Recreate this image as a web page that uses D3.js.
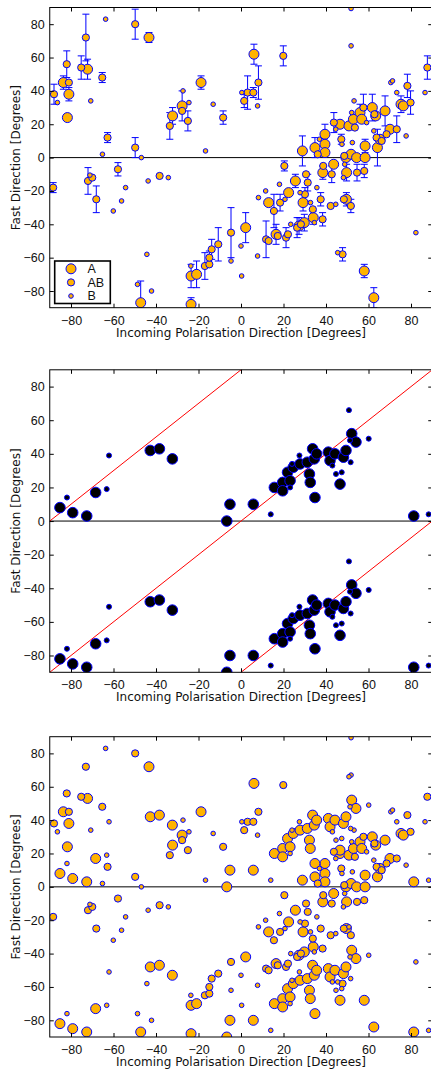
<!DOCTYPE html>
<html><head><meta charset="utf-8">
<script src="https://cdn.jsdelivr.net/npm/d3@7"></script>
<style>
html,body{margin:0;padding:0;background:#fff;}
svg{display:block;}
</style></head>
<body>
<svg id="chart" width="431" height="1070"></svg>
<script>
// ---------- DATA ----------
const xTicks = [-80,-60,-40,-20,0,20,40,60,80];
const yTicks = [-80,-60,-40,-20,0,20,40,60,80];
const axisDomain = [-90, 90];
const classNames = ["A","AB","B"];
const xTitle = "Incoming Polarisation Direction [Degrees]";
const yTitle = "Fast Direction [Degrees]";

// Panel 1: [incoming, fast, error]
const p1A = [[-83.6,45,4],[-81,38,4],[-81.7,24,0],[-72.2,53,6],[-43.3,72,3],[-47.2,-87,13],[-32.2,25,5],[-27.7,31,9],[-18.8,45,4],[6.1,62,6],
 [-23.5,-71,7],[-20.9,-70,8],[-23.5,-88,4],[2.2,-42,9],[13,-27,0],[16.5,-46,6],[22.4,-21,0],[25.6,-14,4],[27.3,-41,5],[29.8,-39,5],[29.2,-27,5],[34,-36,4],[38.5,-9,4],[43.6,-4,0],[49.7,-9,5],[49.6,-25,4],[58,-68,4],[62.5,-84,6],
 [28.9,4,9],[34.8,6,6],[39.5,14,6],[39.5,8,0],[39.5,3,0],[46.6,20,0],[49.4,0,0],[51.8,2,0],[50.8,19,0],[52.9,23,0],[56,27,5],[56.8,23,0],[54.4,0,0],[58.4,7,4],[58.4,0,0],[61.8,30,8],[63.4,25,0],[64.2,6,11],[65.4,11,0],[67.8,28,9],[70.1,17,0],[75.3,32,5],[76.4,31,0]];
const p1AB = [[-88,38,6],[-82,56,8],[-81,45,0],[-75.2,54,7],[-73,72,14],[-65.3,48,3],[-62.8,12,3],[-49.8,80,9],[-49.8,6,6],[-33.5,19,8],[-27.7,28,0],[-25,22,6],[-8.4,24,4],[1.5,34,4],[3.1,39,10],[5.8,39,3],[8.2,45,10],[19.9,61,6],[87.7,54,7],[78.3,43,7],[79.8,33,7],[73.3,17,8],
 [-88.4,-18,3],[-72,-14,8],[-70,-12,0],[-68.1,-25,8],[-57.9,-7,4],[-38.3,-11,0],[-17,-65,8],[-14.9,-64,0],[-14.9,-60,4],[-13.8,-55,6],[-10.7,-52,10],[-4.7,-45,15],[11.8,-49,11],[13,-50,0],[15.5,-32,10],[17.3,-47,0],[18.4,-27,5],[20.4,-5,3],[21.2,-48,6],[22.1,-46,0],[26.4,-42,6],[28.2,-40,0],[30.6,-10,0],[31.4,-15,5],[30.1,-22,4],[33.8,-31,0],[37.5,-25,4],[38.4,-37,4],[38.7,-5,0],[42.7,-10,5],[42.2,-29,0],[48.4,-25,0],[51.7,-29,4],[54.6,-9,5],[58,-8,4],[47.8,-58,4],
 [36.1,2,0],[43.7,21,6],[47.2,11,3],[53.6,18,0],[57.6,30,8],[62.8,26,0],[63.8,12,0],[66.2,10,0],[68.5,14,0],[48.6,1,0]];
const p1B = [[-86.4,33],[-70.7,34],[-63.7,83],[-65.2,2],[-46.9,0],[-27.3,40],[-24.5,33],[-13.1,32],[-16.7,4],[0.4,39],[7.8,31],[51.8,89.4],[51.8,67],[53.2,34],[86.6,39],[70.5,45],[71.3,46],[73.3,39],[77.7,13],
 [-71.1,-10.5],[-54.3,-18],[-56.2,-26],[-60.1,-32],[-43.7,-14],[-34.2,-12],[-44.3,-58],[-48.7,-76],[-42.1,-80],[-23.6,-65],[-4.7,-62],[0,-53],[0.3,-71],[7.8,-59],[8.2,-24],[11.6,-20],[18.1,-16],[20.7,-25],[23.4,-40],[27.8,-21],[32.7,-27],[34.5,-39],[35.7,-18],[44.6,-28],[45.5,-57],[48.2,-12],[48.8,-4],[82.3,-45],
 [36.9,11],[44.6,17],[47.5,8],[52.4,9],[52.1,27],[59.1,21],[62.5,16]];

// Panel 2: [incoming, fast] (fast in 0..90, also shown 90 degrees lower)
const p2A = [[-85.2,8],[-79.2,5],[-72.6,3],[-68.4,17],[-42.7,42],[-38.4,43],[-32.3,37],[-6.7,0],[-5.2,10],[5.8,10],[15.7,20],[19.6,23],[19.6,18],[21.9,29],[23.1,24],[24.6,32],[27.8,34],[31.2,35],[32.2,28],[32.6,23],[33.7,43],[34.8,14],[34.5,37],[35.6,40],[41.1,41],[41.9,36],[44.2,40],[46.6,22],[48.2,38],[49.4,42],[52.1,52],[54.1,47],[81.3,3]];
const p2B = [[-81.9,14],[-63.2,19],[-62.1,39],[14,4],[23.1,20],[24,34],[27.5,39],[43,33],[44.7,28],[47.4,29],[50.8,66],[51.6,35],[51.3,48],[60.1,49],[88.3,4]];
const p2Shift = 90;
const redLineOffsets = [90, 0, -90]; // fast = incoming + offset

// ---------- STYLE ----------
const ORANGE = "#FFB300", BLUE = "#0000FF", RED = "#FF0000";
const R = {A:5.0, AB:3.6, B:2.3};
const R2 = {A:5.3, B:2.5};
const panels = [{top:7.5,bottom:307.7},{top:369.8,bottom:672.3},{top:736.7,bottom:1037}];
const xRange = [49.75, 432.25];
const tickFont = "'Liberation Sans', Arial, Helvetica, sans-serif";
const titleFont = "'DejaVu Sans', sans-serif";
const INK = "#111";

const svg = d3.select("#chart");

function makePanel(i){
  const p = panels[i];
  const x = d3.scaleLinear().domain(axisDomain).range(xRange);
  const y = d3.scaleLinear().domain(axisDomain).range([p.bottom, p.top]);
  const clipId = "clip"+i;
  svg.append("clipPath").attr("id",clipId).append("rect")
    .attr("x",xRange[0]).attr("y",p.top).attr("width",xRange[1]-xRange[0]).attr("height",p.bottom-p.top);
  const g = svg.append("g");
  g.append("line").attr("x1",x(axisDomain[0])).attr("x2",x(axisDomain[1]))
    .attr("y1",y(0)).attr("y2",y(0)).attr("stroke","#000").attr("stroke-width",1);
  const plot = g.append("g").attr("clip-path",`url(#${clipId})`);
  return {g, plot, x, y, p};
}

function finishPanel(P){
  const {g,x,y,p} = P;
  const ax = g.append("g");
  ax.append("g").attr("transform",`translate(0,${p.bottom})`)
    .call(d3.axisBottom(x).tickValues(xTicks).tickSizeInner(-4).tickSizeOuter(0).tickPadding(8));
  ax.append("g").attr("transform",`translate(0,${p.top})`)
    .call(d3.axisTop(x).tickValues(xTicks).tickSizeInner(-4).tickSizeOuter(0).tickFormat(""));
  ax.append("g").attr("transform",`translate(${xRange[0]},0)`)
    .call(d3.axisLeft(y).tickValues(yTicks).tickSizeInner(-4).tickSizeOuter(0).tickPadding(5));
  ax.append("g").attr("transform",`translate(${xRange[1]},0)`)
    .call(d3.axisRight(y).tickValues(yTicks).tickSizeInner(-4).tickSizeOuter(0).tickFormat(""));
  ax.selectAll(".domain").remove();
  ax.selectAll("g").attr("font-family",tickFont).attr("font-size",12.5);
  ax.selectAll(".tick line").attr("stroke","#000");
  ax.selectAll(".tick text").attr("fill",INK);
  g.append("rect").attr("x",xRange[0]).attr("y",p.top).attr("width",xRange[1]-xRange[0]).attr("height",p.bottom-p.top)
    .attr("fill","none").attr("stroke","#000").attr("stroke-width",1);
  g.append("text").attr("x",(xRange[0]+xRange[1])/2).attr("y",p.bottom+29)
    .attr("text-anchor","middle").attr("font-family",titleFont).attr("font-size",12).attr("fill",INK).text(xTitle);
  g.append("text").attr("transform",`translate(19.5,${(p.top+p.bottom)/2}) rotate(-90)`)
    .attr("text-anchor","middle").attr("font-family",titleFont).attr("font-size",12).attr("fill",INK).text(yTitle);
}

function drawMarkers(P, data, r, fill){
  P.plot.append("g").selectAll("circle").data(data).join("circle")
    .attr("cx",d=>P.x(d[0])).attr("cy",d=>P.y(d[1])).attr("r",r)
    .attr("fill",fill).attr("stroke",BLUE).attr("stroke-width",1);
}

function drawErrors(P, data){
  const eg = P.plot.append("g").attr("stroke",BLUE).attr("stroke-width",1).attr("fill","none");
  data.filter(d=>d[2]>0).forEach(d=>{
    const cx = P.x(d[0]), y1 = P.y(d[1]-d[2]), y2 = P.y(d[1]+d[2]);
    eg.append("line").attr("x1",cx).attr("x2",cx).attr("y1",y1).attr("y2",y2);
    eg.append("line").attr("x1",cx-3.5).attr("x2",cx+3.5).attr("y1",y1).attr("y2",y1);
    eg.append("line").attr("x1",cx-3.5).attr("x2",cx+3.5).attr("y1",y2).attr("y2",y2);
  });
}

// ---------- PANEL 1 ----------
const P1 = makePanel(0);
drawErrors(P1, p1A.concat(p1AB));
drawMarkers(P1, p1A, R.A, ORANGE);
drawMarkers(P1, p1AB, R.AB, ORANGE);
drawMarkers(P1, p1B, R.B, ORANGE);
finishPanel(P1);
(function(){
  const lg = svg.append("g");
  lg.append("rect").attr("x",54.7).attr("y",261).attr("width",55.6).attr("height",42.5)
    .attr("fill","#fff").attr("stroke","#000").attr("stroke-width",1.6);
  classNames.forEach((c,i)=>{
    const yy = 268.8 + i*13.6;
    lg.append("circle").attr("cx",71).attr("cy",yy).attr("r",R[c]).attr("fill",ORANGE).attr("stroke",BLUE).attr("stroke-width",1);
    lg.append("text").attr("x",87.5).attr("y",yy+4.4).attr("font-family",tickFont).attr("font-size",12.5).attr("fill",INK).text(c);
  });
})();

// ---------- PANEL 2 ----------
const P2 = makePanel(1);
redLineOffsets.forEach(off=>{
  P2.plot.append("line")
    .attr("x1",P2.x(axisDomain[0])).attr("y1",P2.y(axisDomain[0]+off))
    .attr("x2",P2.x(axisDomain[1])).attr("y2",P2.y(axisDomain[1]+off))
    .attr("stroke",RED).attr("stroke-width",1);
});
const p2Both = arr => arr.concat(arr.map(d=>[d[0], d[1]-p2Shift]));
drawMarkers(P2, p2Both(p2A), R2.A, "#000");
drawMarkers(P2, p2Both(p2B), R2.B, "#000");
finishPanel(P2);

// ---------- PANEL 3 ----------
const P3 = makePanel(2);
drawMarkers(P3, p1A.concat(p2Both(p2A)), R.A, ORANGE);
drawMarkers(P3, p1AB, R.AB, ORANGE);
drawMarkers(P3, p1B.concat(p2Both(p2B)), R.B, ORANGE);
finishPanel(P3);
</script>
</body></html>
